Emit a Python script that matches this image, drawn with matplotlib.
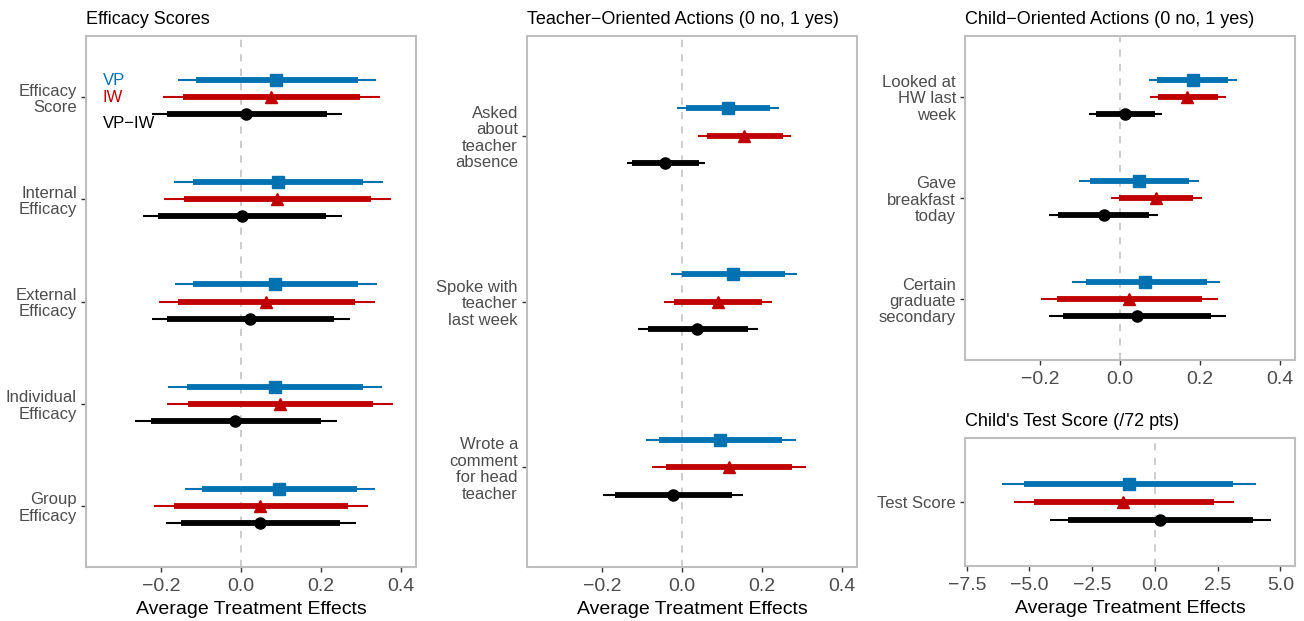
import matplotlib
matplotlib.use("Agg")
import matplotlib.pyplot as plt
from matplotlib.ticker import FuncFormatter

plt.rcParams['font.family'] = ['Liberation Sans', 'DejaVu Sans']

# Each row: (lo95, lo90, estimate, hi90, hi95)
eff_labels = ["Efficacy\nScore", "Internal\nEfficacy", "External\nEfficacy",
              "Individual\nEfficacy", "Group\nEfficacy"]
eff_vp = [(-0.157, -0.113, 0.088, 0.293, 0.337),
          (-0.167, -0.120, 0.093, 0.306, 0.354),
          (-0.166, -0.121, 0.086, 0.293, 0.339),
          (-0.182, -0.134, 0.086, 0.305, 0.352),
          (-0.141, -0.098, 0.096, 0.291, 0.334)]
eff_iw = [(-0.195, -0.145, 0.075, 0.298, 0.347),
          (-0.192, -0.142, 0.090, 0.325, 0.375),
          (-0.206, -0.157, 0.063, 0.286, 0.335),
          (-0.184, -0.132, 0.098, 0.329, 0.381),
          (-0.217, -0.167, 0.048, 0.267, 0.317)]
eff_diff = [(-0.223, -0.186, 0.013, 0.214, 0.253),
            (-0.246, -0.207, 0.003, 0.212, 0.252),
            (-0.223, -0.185, 0.023, 0.232, 0.272),
            (-0.266, -0.226, -0.014, 0.200, 0.241),
            (-0.188, -0.150, 0.048, 0.248, 0.287)]

teach_labels = ["Asked\nabout\nteacher\nabsence", "Spoke with\nteacher\nlast week",
                "Wrote a\ncomment\nfor head\nteacher"]
teach_vp = [(-0.013, 0.010, 0.114, 0.220, 0.243),
            (-0.028, 0.001, 0.127, 0.258, 0.287),
            (-0.091, -0.057, 0.095, 0.249, 0.284)]
teach_iw = [(0.041, 0.062, 0.155, 0.252, 0.272),
            (-0.044, -0.020, 0.089, 0.199, 0.224),
            (-0.074, -0.040, 0.118, 0.276, 0.310)]
teach_diff = [(-0.138, -0.124, -0.043, 0.043, 0.058),
              (-0.109, -0.084, 0.038, 0.164, 0.189),
              (-0.197, -0.168, -0.022, 0.126, 0.153)]

child_labels = ["Looked at\nHW last\nweek", "Gave\nbreakfast\ntoday",
                "Certain\ngraduate\nsecondary"]
child_vp = [(0.073, 0.093, 0.183, 0.271, 0.292),
            (-0.102, -0.075, 0.048, 0.173, 0.198),
            (-0.121, -0.086, 0.063, 0.217, 0.250)]
child_iw = [(0.075, 0.094, 0.168, 0.246, 0.264),
            (-0.023, -0.002, 0.090, 0.183, 0.204),
            (-0.198, -0.158, 0.023, 0.204, 0.244)]
child_diff = [(-0.077, -0.061, 0.013, 0.088, 0.104),
              (-0.177, -0.154, -0.040, 0.073, 0.094),
              (-0.177, -0.142, 0.042, 0.228, 0.264)]

test_labels = ["Test Score"]
test_vp = [(-6.11, -5.21, -1.02, 3.12, 4.02)]
test_iw = [(-5.60, -4.81, -1.26, 2.35, 3.15)]
test_diff = [(-4.18, -3.45, 0.20, 3.89, 4.61)]

prop_ticks = [-0.2, 0.0, 0.2, 0.4]
test_ticks = [-7.5, -5.0, -2.5, 0.0, 2.5, 5.0]

blue = "#0072B2"
red = "#C00000"
series_style = [(blue, "s", 9), (red, "^", 9), ("black", "o", 8)]
offsets = [-1 / 6, 0.0, 1 / 6]
frame_gray = "#BEBEBE"
text_gray = "#4D4D4D"

W, H = 1304, 621
fig = plt.figure(figsize=(W / 100, H / 100), dpi=100)


def px_axes(left, top, right, bottom):
    return fig.add_axes([left / W, (H - bottom) / H, (right - left) / W, (bottom - top) / H])


def minus_fmt(x, pos):
    return ("%.1f" % x).replace("-", "\u2212")


def draw_panel(ax, labels, series, title, xlim, ticks, xlabel=True):
    n = len(labels)
    ax.axvline(0, color="#C8C8C8", lw=1.3, ls=(0, (4, 4)), zorder=1)
    for rows, off, (col, mk, ms) in zip(series, offsets, series_style):
        for i, (lo95, lo90, est, hi90, hi95) in enumerate(rows):
            y = i + 1 + off
            ax.plot([lo95, hi95], [y, y], color=col, lw=1.5, solid_capstyle="butt", zorder=2)
            ax.plot([lo90, hi90], [y, y], color=col, lw=4.2, solid_capstyle="butt", zorder=3)
            ax.plot(est, y, marker=mk, color=col, ms=ms, mec=col, zorder=4)
    ax.set_ylim(n + 0.6, 0.4)
    ax.set_xlim(*xlim)
    ax.set_yticks(range(1, n + 1))
    ax.set_yticklabels(labels, fontsize=12, color=text_gray, linespacing=1.12)
    ax.set_xticks(ticks)
    ax.xaxis.set_major_formatter(FuncFormatter(minus_fmt))
    ax.tick_params(axis="x", labelsize=14, labelcolor=text_gray, color="#333333",
                   length=3.5, width=1, pad=4.5)
    ax.tick_params(axis="y", color="#333333", length=3.5, width=1, pad=3)
    for sp in ax.spines.values():
        sp.set_color(frame_gray)
        sp.set_linewidth(1.5)
    ax.set_title(title, loc="left", fontsize=13, pad=9)
    if xlabel:
        ax.set_xlabel("Average Treatment Effects", fontsize=14, labelpad=4)


prop_lim = (-0.3875, 0.4375)

ax1 = px_axes(86, 36, 416, 567)
draw_panel(ax1, eff_labels, [eff_vp, eff_iw, eff_diff], "Efficacy Scores", prop_lim, prop_ticks)
ax1.text(-0.345, 1 - 1 / 6, "VP", color=blue, fontsize=12, va="center")
ax1.text(-0.345, 1.0, "IW", color=red, fontsize=12, va="center")
ax1.text(-0.345, 1.26, "VP\u2212IW", color="black", fontsize=12, va="center")

ax2 = px_axes(527, 36, 857, 567)
draw_panel(ax2, teach_labels, [teach_vp, teach_iw, teach_diff],
           "Teacher\u2212Oriented Actions (0 no, 1 yes)", prop_lim, prop_ticks)

ax3 = px_axes(965, 36, 1295, 360)
draw_panel(ax3, child_labels, [child_vp, child_iw, child_diff],
           "Child\u2212Oriented Actions (0 no, 1 yes)", prop_lim, prop_ticks, xlabel=False)

ax4 = px_axes(965, 438, 1295, 566)
draw_panel(ax4, test_labels, [test_vp, test_iw, test_diff],
           "Child's Test Score (/72 pts)", (-7.57, 5.58), test_ticks)

fig.savefig("out.png", dpi=100)
